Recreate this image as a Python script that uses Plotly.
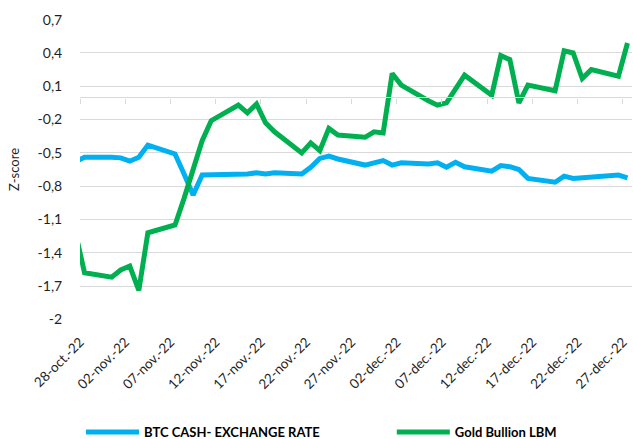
import plotly.graph_objects as go
import pandas as pd

dates = ["2022-10-27", "2022-10-28", "2022-10-31", "2022-11-01", "2022-11-02", "2022-11-03", "2022-11-04",
         "2022-11-07", "2022-11-08", "2022-11-09", "2022-11-10", "2022-11-11",
         "2022-11-14", "2022-11-15", "2022-11-16", "2022-11-17", "2022-11-18",
         "2022-11-21", "2022-11-22", "2022-11-23", "2022-11-24", "2022-11-25",
         "2022-11-28", "2022-11-29", "2022-11-30", "2022-12-01", "2022-12-02",
         "2022-12-05", "2022-12-06", "2022-12-07", "2022-12-08", "2022-12-09",
         "2022-12-12", "2022-12-13", "2022-12-14", "2022-12-15", "2022-12-16",
         "2022-12-19", "2022-12-20", "2022-12-21", "2022-12-22", "2022-12-23",
         "2022-12-26", "2022-12-27"]

btc_cash = [-0.58, -0.54, -0.54, -0.545, -0.575, -0.54, -0.43,
            -0.51, -0.69, -0.88, -0.70, -0.70,
            -0.69, -0.69, -0.68, -0.69, -0.68,
            -0.69, -0.63, -0.55, -0.53, -0.555,
            -0.61, -0.59, -0.57, -0.61, -0.59,
            -0.60, -0.59, -0.63, -0.585, -0.625,
            -0.665, -0.615, -0.625, -0.65, -0.73,
            -0.765, -0.71, -0.73, -0.725, -0.72,
            -0.70, -0.725]

gold = [-1.22, -1.58, -1.62, -1.555, -1.52, -1.74, -1.22,
        -1.15, -0.91, -0.66, -0.39, -0.21,
        -0.07, -0.14, -0.06, -0.23, -0.31,
        -0.50, -0.41, -0.48, -0.28, -0.34,
        -0.36, -0.31, -0.32, 0.215, 0.11,
        -0.03, -0.07, -0.05, 0.07, 0.20,
        0.02, 0.376, 0.34, -0.05, 0.11,
        0.06, 0.42, 0.40, 0.17, 0.25,
        0.19, 0.49]

tick_dates = ["2022-10-28", "2022-11-02", "2022-11-07", "2022-11-12", "2022-11-17", "2022-11-22",
              "2022-11-27", "2022-12-02", "2022-12-07", "2022-12-12", "2022-12-17", "2022-12-22",
              "2022-12-27"]
tick_labels = ["28-oct.-22", "02-nov.-22", "07-nov.-22", "12-nov.-22", "17-nov.-22", "22-nov.-22",
               "27-nov.-22", "02-dec.-22", "07-dec.-22", "12-dec.-22", "17-dec.-22", "22-dec.-22",
               "27-dec.-22"]

y_ticks = [-2, -1.7, -1.4, -1.1, -0.8, -0.5, -0.2, 0.1, 0.4, 0.7]
y_labels = ["-2", "-1,7", "-1,4", "-1,1", "-0,8", "-0,5", "-0,2", "0,1", "0,4", "0,7"]

# Excel date axis "between tick marks": each day's point sits in the middle of its day slot
x_pts = pd.to_datetime(dates) + pd.Timedelta(hours=12)

x_range = ["2022-10-28", "2022-12-28"]
y_range = [-2.006, 0.706]
zero_pos = (0 - y_range[0]) / (y_range[1] - y_range[0])

FONT = "Lato, 'Open Sans', sans-serif"
TXT = "#1f1f1f"
LEG_FONT = dict(family=FONT, size=13, color="#000000", weight="bold")

fig = go.Figure()
fig.add_trace(go.Scatter(x=x_pts, y=btc_cash, mode="lines", name="BTC CASH- EXCHANGE RATE",
                         line=dict(color="#00B0F0", width=5), legend="legend"))
fig.add_trace(go.Scatter(x=x_pts, y=gold, mode="lines", name="Gold Bullion LBM",
                         line=dict(color="#00B050", width=5), legend="legend2"))
# helper (invisible) trace for the label axis
fig.add_trace(go.Scatter(x=x_pts, y=btc_cash, mode="lines", xaxis="x2", showlegend=False,
                         hoverinfo="skip", line=dict(color="rgba(0,0,0,0)", width=0)))

fig.update_layout(
    width=633, height=439,
    margin=dict(l=80, r=1, t=19, b=119),
    paper_bgcolor="white", plot_bgcolor="white",
    font=dict(family=FONT, color=TXT),
    showlegend=True,
    legend=dict(orientation="h", xref="container", yref="container", x=0.128, xanchor="left",
                y=0.016, yanchor="middle", font=LEG_FONT, itemwidth=53,
                bgcolor="rgba(0,0,0,0)"),
    legend2=dict(orientation="h", xref="container", yref="container", x=0.619, xanchor="left",
                 y=0.016, yanchor="middle", font=LEG_FONT, itemwidth=53,
                 bgcolor="rgba(0,0,0,0)"),
    xaxis=dict(type="date", range=x_range, anchor="free", position=zero_pos,
               tickvals=tick_dates, showticklabels=False, showgrid=False,
               showline=True, linecolor="#D9D9D9", linewidth=1.3,
               ticks="outside", ticklen=5, tickcolor="#D9D9D9", tickwidth=1.3,
               zeroline=False),
    xaxis2=dict(type="date", range=x_range, overlaying="x", anchor="y", side="bottom",
                tickvals=tick_dates, ticktext=tick_labels, tickangle=-45,
                tickfont=dict(family=FONT, size=13.5, color=TXT),
                showgrid=False, showline=False, zeroline=False,
                ticks="outside", ticklen=8, tickcolor="rgba(0,0,0,0)"),
    yaxis=dict(range=y_range, tickvals=y_ticks, ticktext=y_labels,
               tickfont=dict(family=FONT, size=14, color=TXT),
               showgrid=True, gridcolor="#D9D9D9", gridwidth=1.3,
               zeroline=False, showline=False,
               ticks="outside", ticklen=14, tickcolor="rgba(0,0,0,0)",
               title=dict(text="Z-score", font=dict(family=FONT, size=13, color=TXT), standoff=15)),
)

fig.write_html("out.html", config={"displayModeBar": False},
               post_script="document.body.style.margin='0px';")
